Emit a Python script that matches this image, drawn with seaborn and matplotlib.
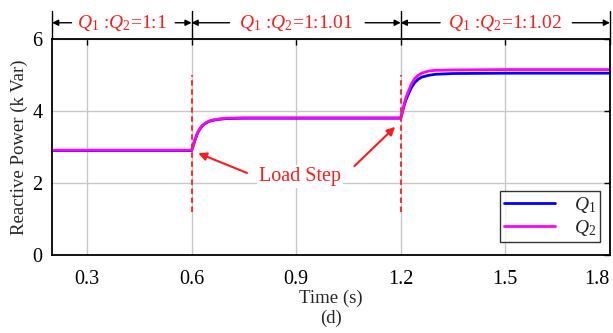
import matplotlib
matplotlib.use("Agg")
import matplotlib.pyplot as plt
import seaborn as sns
import pandas as pd

# ---- data ----
time_s = [0.2, 0.6, 0.605, 0.61, 0.615, 0.62, 0.63, 0.64, 0.65, 0.66, 0.68, 0.70, 0.75, 0.9,
          1.2, 1.205, 1.21, 1.215, 1.22, 1.23, 1.24, 1.25, 1.26, 1.28, 1.30, 1.35, 1.5, 1.8]
q1_kvar = [2.90, 2.90, 3.04, 3.20, 3.33, 3.44, 3.58, 3.66, 3.71, 3.74, 3.77, 3.79, 3.80, 3.80,
           3.80, 3.98, 4.16, 4.31, 4.43, 4.64, 4.79, 4.88, 4.94, 4.99, 5.02, 5.04, 5.05, 5.05]
q2_kvar = [2.91, 2.91, 3.05, 3.21, 3.34, 3.45, 3.59, 3.67, 3.72, 3.75, 3.78, 3.80, 3.81, 3.81,
           3.81, 4.00, 4.20, 4.37, 4.50, 4.74, 4.90, 4.99, 5.05, 5.11, 5.13, 5.14, 5.15, 5.15]
series_names = ["$Q_1$", "$Q_2$"]
x_ticks = [0.3, 0.6, 0.9, 1.2, 1.5, 1.8]
y_ticks = [0, 2, 4, 6]
step_times = [0.6, 1.2]
segments = [(0.2, 0.6, "$Q_1$ :$Q_2$=1:1"),
            (0.6, 1.2, "$Q_1$ :$Q_2$=1:1.01"),
            (1.2, 1.8, "$Q_1$ :$Q_2$=1:1.02")]

df = pd.DataFrame({
    "t": time_s + time_s,
    "q": q1_kvar + q2_kvar,
    "s": [series_names[0]] * len(time_s) + [series_names[1]] * len(time_s),
})

sns.set_theme(style="white")
plt.rcParams["font.family"] = ["Liberation Serif", "DejaVu Serif"]
plt.rcParams["mathtext.fontset"] = "custom"
plt.rcParams["mathtext.rm"] = "Liberation Serif"
plt.rcParams["mathtext.it"] = "Liberation Serif:italic"

fig = plt.figure(figsize=(6.13, 3.33), dpi=100)
ax = fig.add_axes([0.085, 0.234, 0.910, 0.649])

palette = {series_names[0]: "#0000ff", series_names[1]: "#ff00ff"}
sns.lineplot(data=df, x="t", y="q", hue="s", palette=palette, ax=ax,
             linewidth=2.0, legend=False, estimator=None, sort=False)

ax.set_xlim(0.2, 1.8)
ax.set_ylim(0, 6)
ax.set_xticks(x_ticks)
ax.set_yticks(y_ticks)
ax.set_xticklabels([f"{v:.1f}" for v in x_ticks])
ax.set_yticklabels([str(v) for v in y_ticks])
ax.grid(True, color="#c8c8c8", linewidth=1.0)
ax.set_axisbelow(True)
for sp in ax.spines.values():
    sp.set_color("black")
    sp.set_linewidth(1.3)
ax.tick_params(direction="in", length=4, width=1, top=True, right=True,
               labelsize=14.5, colors="black")
ax.tick_params(axis="x", pad=11)
ax.tick_params(axis="y", pad=7)
ax.get_xticklabels()[-1].set_horizontalalignment("right")
ax.set_xlabel("Time (s)", fontsize=13.5, labelpad=0)
ax.set_ylabel("Reactive Power (k Var)", fontsize=13.5, labelpad=3)
fig.text(0.54, 0.045, "(d)", fontsize=13.5, ha="center", va="center")

# red dashed load-step markers
for ts in step_times:
    ax.plot([ts, ts], [1.19, 5.0], color="#ff2020", linestyle=(0, (3, 2)), linewidth=1.3)

# Load Step label + arrows
ax.text(0.912, 2.17, "Load Step", color="#ff1a1a", fontsize=14.5, ha="center", va="center",
        bbox=dict(facecolor="white", edgecolor="none", pad=1.5), zorder=5)
arrow_kw = dict(arrowstyle="-|>", color="#ff1a1a", lw=1.5, mutation_scale=12, shrinkA=0, shrinkB=0)
ax.annotate("", xy=(0.619, 2.83), xytext=(0.759, 2.28), arrowprops=arrow_kw)
ax.annotate("", xy=(1.184, 3.56), xytext=(1.067, 2.47), arrowprops=arrow_kw)

# top region annotations
y_arr = 6.45
for a, b, label in segments:
    mid = (a + b) / 2
    ax.text(mid, y_arr, label, color="#ff1a1a", fontsize=14, ha="center", va="center",
            clip_on=False)
for xv in [0.2, 0.6, 1.2, 1.8]:
    ax.plot([xv, xv], [6.0, 6.78], color="black", linewidth=1.0, clip_on=False)
black_kw = dict(arrowstyle="-|>", color="black", lw=1.0, mutation_scale=9, shrinkA=0, shrinkB=0)
arrow_tails = [(0.256, 0.2), (0.553, 0.6), (0.709, 0.6), (1.098, 1.2), (1.313, 1.2), (1.692, 1.8)]
for tail, head in arrow_tails:
    ax.annotate("", xy=(head, y_arr), xytext=(tail, y_arr), arrowprops=black_kw,
                annotation_clip=False)

# legend
handles = ax.get_lines()[:2]
leg = ax.legend(handles, series_names, loc="lower right", bbox_to_anchor=(0.983, 0.06),
                fontsize=14, frameon=True, fancybox=False, handlelength=2.6,
                borderpad=0.2, labelspacing=0.15, handletextpad=1.0, borderaxespad=0)
leg.get_frame().set_edgecolor("black")
leg.get_frame().set_linewidth(1.0)

fig.savefig("out.png", dpi=100)
